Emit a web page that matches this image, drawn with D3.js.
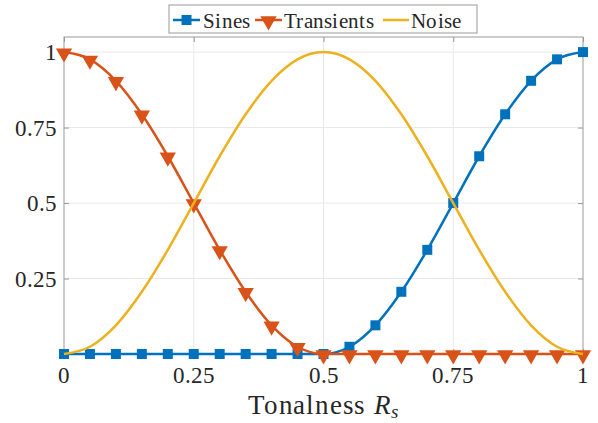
<!DOCTYPE html>
<html>
<head>
<meta charset="utf-8">
<script src="https://cdn.jsdelivr.net/npm/d3@7"></script>
<style>
  @font-face { font-family: "ChartSerif"; src: local("Liberation Serif"), local("LiberationSerif-Regular"), local("Tinos"); font-style: normal; }
  @font-face { font-family: "ChartSerif"; src: local("Liberation Serif Italic"), local("LiberationSerif-Italic"); font-style: italic; }
  html, body { margin: 0; padding: 0; background: #fff; }
  svg { display: block; }
  #chart text { font-family: "ChartSerif", "Liberation Serif", "DejaVu Serif", serif; }
</style>
</head>
<body>
<svg id="chart" width="598" height="423"></svg>
<script>
// Tonalness sample positions (every 0.05)
const tonalness = [0, 0.05, 0.1, 0.15, 0.2, 0.25, 0.3, 0.35, 0.4, 0.45, 0.5,
                   0.55, 0.6, 0.65, 0.7, 0.75, 0.8, 0.85, 0.9, 0.95, 1];

// Weight of each component at those positions
const sines      = [0, 0, 0, 0, 0, 0, 0, 0, 0, 0, 0,
                    0.024, 0.095, 0.206, 0.345, 0.5, 0.655, 0.794, 0.905, 0.976, 1];
const transients = [1, 0.976, 0.905, 0.794, 0.655, 0.5, 0.345, 0.206, 0.095, 0.024, 0,
                    0, 0, 0, 0, 0, 0, 0, 0, 0, 0];
const noise      = [0, 0.024, 0.095, 0.206, 0.345, 0.5, 0.655, 0.794, 0.905, 0.976, 1,
                    0.976, 0.905, 0.794, 0.655, 0.5, 0.345, 0.206, 0.095, 0.024, 0];

const seriesNames = ["Sines", "Transients", "Noise"];
const seriesColors = ["#0072BD", "#D95319", "#EDB120"];

const xTicks = [0, 0.25, 0.5, 0.75, 1];
const xTickLabels = ["0", "0.25", "0.5", "0.75", "1"];
const yTicks = [0.25, 0.5, 0.75, 1];
const yTickLabels = ["0.25", "0.5", "0.75", "1"];

const TEXT = "#262626";

const svg = d3.select("#chart");
const L = 64, R = 583, T = 37, B = 354;

const x = d3.scaleLinear().domain([0, 1]).range([L, R]);
const y = d3.scaleLinear().domain([0, 1.05]).range([B, T]);

// serif label helper
function label(parent, str, px, py, size) {
  return parent.append("text").attr("x", px).attr("y", py).attr("font-size", size)
    .attr("font-family", "Liberation Serif").attr("fill", TEXT).text(str);
}

// grid
const grid = svg.append("g");
grid.selectAll("line.gx").data(xTicks.slice(1, -1)).join("line").attr("class", "gx")
  .attr("x1", d => x(d)).attr("x2", d => x(d)).attr("y1", T).attr("y2", B)
  .attr("stroke", "#e8e8e8").attr("stroke-width", 1);
grid.selectAll("line.gy").data(yTicks).join("line").attr("class", "gy")
  .attr("y1", d => y(d)).attr("y2", d => y(d)).attr("x1", L).attr("x2", R)
  .attr("stroke", "#e8e8e8").attr("stroke-width", 1);

// axes: inward ticks on all four sides, labels drawn separately
const axisColor = "#9a9a9a";
function styleAxis(g) {
  g.select(".domain").remove();
  g.selectAll(".tick line").attr("stroke", axisColor);
  g.selectAll(".tick text").remove();
}
styleAxis(svg.append("g").attr("transform", `translate(0,${B})`)
  .call(d3.axisBottom(x).tickValues(xTicks).tickSizeInner(-5).tickSizeOuter(0)));
styleAxis(svg.append("g").attr("transform", `translate(0,${T})`)
  .call(d3.axisTop(x).tickValues(xTicks).tickSizeInner(-5).tickSizeOuter(0)));
styleAxis(svg.append("g").attr("transform", `translate(${L},0)`)
  .call(d3.axisLeft(y).tickValues(yTicks).tickSizeInner(-5).tickSizeOuter(0)));
styleAxis(svg.append("g").attr("transform", `translate(${R},0)`)
  .call(d3.axisRight(y).tickValues(yTicks).tickSizeInner(-5).tickSizeOuter(0)));

// tick labels
const labels = svg.append("g");
xTicks.forEach((t, i) => {
  label(labels, xTickLabels[i], x(t), B + 29, 23).attr("text-anchor", "middle");
});
yTicks.forEach((t, i) => {
  label(labels, yTickLabels[i], L - 7, y(t) + 8, 23).attr("text-anchor", "end");
});

// box
svg.append("rect").attr("x", L).attr("y", T).attr("width", R - L).attr("height", B - T)
  .attr("fill", "none").attr("stroke", axisColor).attr("stroke-width", 1);

// series
const data = [sines, transients, noise].map((vals, k) => ({
  name: seriesNames[k], color: seriesColors[k],
  points: tonalness.map((t, i) => [t, vals[i]])
}));

const line = d3.line().x(d => x(d[0])).y(d => y(d[1])).curve(d3.curveMonotoneX);
const sq = d3.symbol().type(d3.symbolSquare).size(100);
const tri = d3.symbol().type(d3.symbolTriangle).size(115);

data.forEach((s, k) => {
  const g = svg.append("g");
  g.append("path").attr("d", line(s.points)).attr("fill", "none")
    .attr("stroke", s.color).attr("stroke-width", 2.5);
  if (k === 0) {
    g.selectAll("path.m").data(s.points).join("path").attr("class", "m")
      .attr("d", sq).attr("fill", s.color)
      .attr("transform", d => `translate(${x(d[0])},${y(d[1])})`);
  } else if (k === 1) {
    g.selectAll("path.m").data(s.points).join("path").attr("class", "m")
      .attr("d", tri).attr("fill", s.color)
      .attr("transform", d => `translate(${x(d[0])},${y(d[1]) + 1}) rotate(180)`);
  }
});

// x label
const xl = label(svg, "", 323, 414, 27).attr("text-anchor", "middle");
xl.append("tspan").text("Tonalness ").attr("letter-spacing", 0.8);
xl.append("tspan").text("R").attr("font-style", "italic");
xl.append("tspan").text("s").attr("font-style", "italic").attr("font-size", 19).attr("dy", 4);

// legend
const lg = svg.append("g");
lg.append("rect").attr("x", 169).attr("y", 5).attr("width", 308).attr("height", 28)
  .attr("fill", "#fff").attr("stroke", axisColor).attr("stroke-width", 1);
const legendItems = [
  { x0: 173, x1: 200, tx: 203 },
  { x0: 255, x1: 282, tx: 284 },
  { x0: 383, x1: 409, tx: 411 }
];
data.forEach((s, k) => {
  const it = legendItems[k];
  const cy = 20;
  lg.append("line").attr("x1", it.x0).attr("x2", it.x1).attr("y1", cy).attr("y2", cy)
    .attr("stroke", s.color).attr("stroke-width", 2.5);
  const mx = (it.x0 + it.x1) / 2;
  if (k === 0) lg.append("path").attr("d", sq).attr("fill", s.color).attr("transform", `translate(${mx},${cy})`);
  if (k === 1) lg.append("path").attr("d", tri).attr("fill", s.color).attr("transform", `translate(${mx},${cy + 1}) rotate(180)`);
  label(lg, s.name, it.tx, 28, 21).attr("letter-spacing", 0.3);
});
</script>
</body>
</html>
